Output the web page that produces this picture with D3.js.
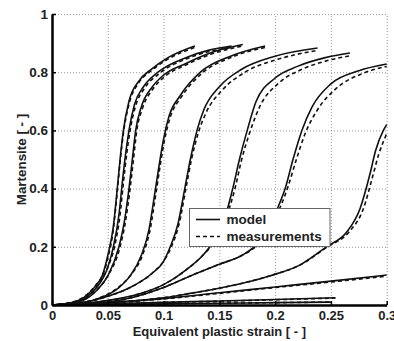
<!DOCTYPE html>
<html>
<head>
<meta charset="utf-8">
<script src="https://cdn.jsdelivr.net/npm/d3@7"></script>
<style>
  body { margin: 0; background: #fff; }
  text { font-family: "Liberation Sans", Arial, sans-serif; font-weight: bold; }
</style>
</head>
<body>
<div id="app"></div>
<script>
// ticks
const xTicks = [0, 0.05, 0.1, 0.15, 0.2, 0.25, 0.3];
const xTickLabels = ['0', '0.05', '0.1', '0.15', '0.2', '0.25', '0.3'];
const yTicks = [0, 0.2, 0.4, 0.6, 0.8, 1];
const yTickLabels = ['0', '0.2', '0.4', '0.6', '0.8', '1'];

// model curves [strain, martensite]
const modelA = [[0,0],[0.02,0.01],[0.03,0.03],[0.04,0.07],[0.045,0.1],[0.05,0.17],[0.055,0.27],[0.058,0.38],[0.061,0.5],[0.064,0.6],[0.069,0.7],[0.078,0.77],[0.089,0.81],[0.104,0.85],[0.128,0.89]];
const modelB = [[0,0],[0.02,0.01],[0.03,0.025],[0.04,0.06],[0.05,0.13],[0.055,0.2],[0.06,0.31],[0.063,0.42],[0.066,0.52],[0.069,0.6],[0.074,0.69],[0.082,0.75],[0.095,0.8],[0.12,0.85],[0.14,0.875],[0.161,0.89]];
const modelC = [[0,0],[0.02,0.008],[0.03,0.02],[0.04,0.05],[0.05,0.1],[0.06,0.2],[0.065,0.29],[0.069,0.4],[0.072,0.5],[0.075,0.6],[0.08,0.68],[0.09,0.75],[0.1,0.79],[0.12,0.83],[0.145,0.87],[0.171,0.895]];
const modelD = [[0,0],[0.02,0.005],[0.04,0.02],[0.06,0.06],[0.07,0.1],[0.08,0.17],[0.087,0.26],[0.092,0.38],[0.096,0.48],[0.1,0.57],[0.105,0.65],[0.115,0.72],[0.133,0.8],[0.16,0.855],[0.191,0.89]];
const modelE = [[0,0],[0.03,0.01],[0.05,0.03],[0.07,0.06],[0.09,0.11],[0.1,0.15],[0.106,0.2],[0.113,0.28],[0.119,0.4],[0.124,0.5],[0.13,0.6],[0.136,0.67],[0.15,0.75],[0.17,0.81],[0.2,0.855],[0.238,0.883]];
const modelF = [[0,0],[0.04,0.01],[0.08,0.04],[0.1,0.07],[0.12,0.12],[0.135,0.17],[0.145,0.22],[0.155,0.3],[0.162,0.4],[0.168,0.5],[0.175,0.6],[0.183,0.7],[0.2,0.78],[0.22,0.82],[0.245,0.85],[0.267,0.866]];
const modelG = [[0,0],[0.05,0.01],[0.1,0.06],[0.124,0.1],[0.15,0.14],[0.17,0.17],[0.184,0.21],[0.195,0.27],[0.203,0.34],[0.209,0.4],[0.216,0.5],[0.224,0.6],[0.233,0.68],[0.25,0.76],[0.275,0.805],[0.3,0.828]];
const modelH = [[0,0],[0.05,0.008],[0.1,0.025],[0.124,0.04],[0.153,0.06],[0.195,0.1],[0.222,0.137],[0.246,0.2],[0.264,0.25],[0.276,0.33],[0.285,0.45],[0.29,0.53],[0.297,0.6],[0.3,0.62]];
const modelI = [[0,0],[0.05,0.008],[0.1,0.022],[0.15,0.042],[0.2,0.062],[0.25,0.082],[0.3,0.103]];
const modelJ = [[0,0],[0.05,0.004],[0.1,0.009],[0.15,0.014],[0.2,0.019],[0.254,0.025]];
const modelK = [[0,0],[0.05,0.002],[0.1,0.004],[0.15,0.006],[0.2,0.008],[0.25,0.01]];

// measured curves
const measA = [[0,0],[0.02,0.012],[0.03,0.032],[0.04,0.072],[0.045,0.1],[0.05,0.16],[0.055,0.26],[0.058,0.37],[0.061,0.49],[0.064,0.59],[0.069,0.69],[0.078,0.765],[0.089,0.805],[0.104,0.845],[0.128,0.885]];
const measB = [[0,0],[0.02,0.01],[0.03,0.026],[0.04,0.062],[0.05,0.13],[0.056,0.2],[0.061,0.31],[0.064,0.42],[0.067,0.52],[0.07,0.6],[0.075,0.685],[0.083,0.745],[0.096,0.795],[0.12,0.845],[0.14,0.87],[0.161,0.885]];
const measC = [[0,0],[0.02,0.009],[0.03,0.021],[0.04,0.05],[0.05,0.1],[0.061,0.2],[0.066,0.29],[0.07,0.4],[0.073,0.5],[0.076,0.6],[0.081,0.675],[0.091,0.745],[0.101,0.785],[0.12,0.825],[0.145,0.865],[0.171,0.89]];
const measD = [[0,0],[0.02,0.005],[0.04,0.021],[0.06,0.062],[0.07,0.1],[0.081,0.17],[0.088,0.26],[0.093,0.38],[0.097,0.48],[0.101,0.57],[0.106,0.645],[0.116,0.715],[0.134,0.795],[0.16,0.85],[0.191,0.885]];
const measE = [[0,0],[0.03,0.01],[0.05,0.03],[0.07,0.06],[0.09,0.11],[0.1,0.15],[0.107,0.2],[0.114,0.28],[0.12,0.4],[0.125,0.5],[0.131,0.59],[0.138,0.66],[0.153,0.74],[0.173,0.8],[0.203,0.845],[0.238,0.875]];
const measF = [[0,0],[0.04,0.01],[0.08,0.04],[0.1,0.07],[0.12,0.12],[0.135,0.17],[0.146,0.22],[0.156,0.3],[0.164,0.4],[0.17,0.5],[0.177,0.59],[0.186,0.68],[0.204,0.765],[0.224,0.81],[0.247,0.84],[0.267,0.856]];
const measG = [[0,0],[0.05,0.01],[0.1,0.06],[0.124,0.1],[0.15,0.14],[0.17,0.17],[0.185,0.21],[0.196,0.27],[0.205,0.34],[0.211,0.4],[0.219,0.5],[0.227,0.59],[0.237,0.665],[0.255,0.745],[0.278,0.795],[0.3,0.82]];
const measH = [[0,0],[0.05,0.008],[0.1,0.025],[0.124,0.04],[0.153,0.06],[0.195,0.1],[0.222,0.137],[0.247,0.2],[0.266,0.25],[0.279,0.33],[0.288,0.45],[0.293,0.52],[0.299,0.58],[0.3,0.59]];
const measI = [[0,0],[0.05,0.007],[0.1,0.021],[0.15,0.04],[0.2,0.06],[0.25,0.079],[0.3,0.099]];
const measJ = [[0,0],[0.05,0.004],[0.1,0.009],[0.15,0.013],[0.2,0.018],[0.254,0.024]];
const measK = [[0,0],[0.05,0.002],[0.1,0.004],[0.15,0.006],[0.2,0.008],[0.25,0.01]];

const modelCurves = [modelA, modelB, modelC, modelD, modelE, modelF, modelG, modelH, modelI, modelJ, modelK];
const measCurves = [measA, measB, measC, measD, measE, measF, measG, measH, measI, measJ, measK];

const legendLabels = ['model', 'measurements'];

const width = 394;
const height = 341;
const plotLeft = 52, plotRight = 386.7, plotTop = 14, plotBottom = 305;

const svg = d3.select('#app').append('svg')
  .attr('width', width)
  .attr('height', height);

const x = d3.scaleLinear().domain([0, 0.3]).range([plotLeft, plotRight]);
const y = d3.scaleLinear().domain([0, 1]).range([plotBottom, plotTop]);

// grid
const gridX = d3.axisBottom(x).tickValues(xTicks.slice(1)).tickSize(-(plotBottom - plotTop)).tickFormat('');
svg.append('g')
  .attr('transform', `translate(0,${plotBottom})`)
  .call(gridX)
  .call(g => g.select('.domain').remove())
  .selectAll('line')
  .attr('stroke', '#999')
  .attr('stroke-width', 1)
  .attr('stroke-dasharray', '1,2');

const gridY = d3.axisLeft(y).tickValues(yTicks.slice(1)).tickSize(-(plotRight - plotLeft)).tickFormat('');
svg.append('g')
  .attr('transform', `translate(${plotLeft},0)`)
  .call(gridY)
  .call(g => g.select('.domain').remove())
  .selectAll('line')
  .attr('stroke', '#999')
  .attr('stroke-width', 1)
  .attr('stroke-dasharray', '1,2');

// curves
const line = d3.line()
  .curve(d3.curveMonotoneX)
  .x(d => x(d[0]))
  .y(d => y(d[1]));

svg.append('g').selectAll('path.model')
  .data(modelCurves)
  .join('path')
  .attr('class', 'model')
  .attr('d', line)
  .attr('fill', 'none')
  .attr('stroke', '#111')
  .attr('stroke-width', 1.6);

svg.append('g').selectAll('path.meas')
  .data(measCurves)
  .join('path')
  .attr('class', 'meas')
  .attr('d', line)
  .attr('fill', 'none')
  .attr('stroke', '#111')
  .attr('stroke-width', 1.6)
  .attr('stroke-dasharray', '4,3');

// axes
const axisX = d3.axisBottom(x).tickValues(xTicks).tickSizeInner(-4).tickSizeOuter(0)
  .tickFormat((d, i) => xTickLabels[i]);
const axisXG = svg.append('g')
  .attr('transform', `translate(0,${plotBottom})`)
  .call(axisX);
axisXG.select('.domain').attr('stroke', '#000').attr('stroke-width', 2.5);
axisXG.selectAll('line').attr('stroke', '#000').attr('stroke-width', 1.5);
axisXG.selectAll('text')
  .attr('y', 15)
  .attr('dy', null)
  .attr('font-size', 13)
  .attr('fill', '#222');

const axisY = d3.axisLeft(y).tickValues(yTicks).tickSizeInner(-4).tickSizeOuter(0)
  .tickFormat((d, i) => yTickLabels[i]);
const axisYG = svg.append('g')
  .attr('transform', `translate(${plotLeft},0)`)
  .call(axisY);
axisYG.select('.domain').attr('stroke', '#000').attr('stroke-width', 2.5);
axisYG.selectAll('line').attr('stroke', '#000').attr('stroke-width', 1.5);
axisYG.selectAll('text')
  .attr('x', -4)
  .attr('font-size', 13.5)
  .attr('fill', '#222');

// titles
svg.append('text')
  .attr('x', (plotLeft + plotRight) / 2)
  .attr('y', 335.5)
  .attr('text-anchor', 'middle')
  .attr('font-size', 13)
  .attr('fill', '#222')
  .text('Equivalent plastic strain [ - ]');

svg.append('text')
  .attr('transform', `translate(26,${(plotTop + plotBottom) / 2}) rotate(-90)`)
  .attr('text-anchor', 'middle')
  .attr('font-size', 13.4)
  .attr('fill', '#222')
  .text('Martensite [ - ]');

// legend
const legend = svg.append('g');
legend.append('rect')
  .attr('x', 189.5)
  .attr('y', 208.5)
  .attr('width', 140.5)
  .attr('height', 38)
  .attr('fill', '#fff')
  .attr('stroke', '#666')
  .attr('stroke-width', 1);

legendLabels.forEach((label, i) => {
  const ly = 219.5 + i * 17;
  legend.append('line')
    .attr('x1', 196).attr('x2', 220)
    .attr('y1', ly).attr('y2', ly)
    .attr('stroke', '#111')
    .attr('stroke-width', 1.6)
    .attr('stroke-dasharray', i === 0 ? null : '4,3');
  legend.append('text')
    .attr('x', 226.5)
    .attr('y', ly + 4.5)
    .attr('font-size', 13.5)
    .attr('fill', '#222')
    .text(label);
});
</script>
</body>
</html>
